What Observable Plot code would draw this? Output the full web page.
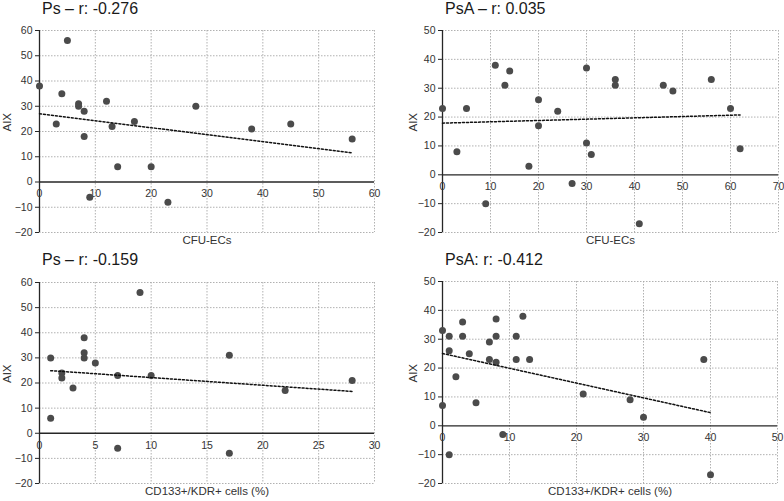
<!DOCTYPE html>
<html>
<head>
<meta charset="utf-8">
<script src="https://cdn.jsdelivr.net/npm/d3@7"></script>
<script src="https://cdn.jsdelivr.net/npm/@observablehq/plot@0.6"></script>
<style>
  html, body { margin: 0; padding: 0; background: #fff; }
  #root { position: relative; width: 784px; height: 501px; overflow: hidden; font-family: "Liberation Sans", Arial, sans-serif; }
  .panel { position: absolute; }
  .title { position: absolute; font-size: 16px; color: #1a1a1a; white-space: nowrap; line-height: 1; }
</style>
</head>
<body>
<div id="root"></div>
<script>
// ---- Data ----
// Panel 1: Ps, CFU-ECs vs AIX
const psCfuX = [0, 5, 4, 7, 7, 8, 3, 8, 12, 13, 17, 14, 20, 9, 23, 28, 38, 45, 56];
const psCfuY = [38, 56, 35, 31, 30, 28, 23, 18, 32, 22, 24, 6, 6, -6, -8, 30, 21, 23, 17];
// Panel 2: PsA, CFU-ECs vs AIX
const psaCfuX = [0, 3, 5, 9, 11, 13, 14, 18, 20, 20, 24, 27, 30, 30, 31, 36, 36, 41, 46, 48, 56, 60, 62];
const psaCfuY = [23, 8, 23, -10, 38, 31, 36, 3, 26, 17, 22, -3, 37, 11, 7, 33, 31, -17, 31, 29, 33, 23, 9];
// Panel 3: Ps, CD133+/KDR+ cells (%) vs AIX
const psCdX = [1, 1, 2, 2, 3, 4, 4, 4, 5, 7, 7, 9, 10, 17, 17, 22, 28];
const psCdY = [30, 6, 24, 22, 18, 38, 32, 30, 28, 23, -6, 56, 23, 31, -8, 17, 21];
// Panel 4: PsA, CD133+/KDR+ cells (%) vs AIX
const psaCdX = [0, 0, 1, 1, 1, 2, 3, 3, 4, 5, 7, 7, 8, 8, 8, 9, 11, 11, 12, 13, 21, 28, 30, 39, 40];
const psaCdY = [33, 7, 31, 26, -10, 17, 36, 31, 25, 8, 29, 23, 37, 31, 22, -3, 31, 23, 38, 23, 11, 9, 3, 23, -17];

// Titles and labels
const titles = ["Ps \u2013 r: -0.276", "PsA \u2013 r: 0.035", "Ps \u2013 r: -0.159", "PsA: r: -0.412"];
const xLabels = ["CFU-ECs", "CFU-ECs", "CD133+/KDR+ cells (%)", "CD133+/KDR+ cells (%)"];
const yLabel = "AIX";

// Tick values
const xTicks1 = [0, 10, 20, 30, 40, 50, 60];
const xTicks2 = [0, 10, 20, 30, 40, 50, 60, 70];
const xTicks3 = [0, 5, 10, 15, 20, 25, 30];
const xTicks4 = [0, 10, 20, 30, 40, 50];
const yTicksPs = [-20, -10, 0, 10, 20, 30, 40, 50, 60];
const yTicksPsA = [-20, -10, 0, 10, 20, 30, 40, 50];

const FONT = "Liberation Sans, Arial, sans-serif";

function panel(cfg) {
  const data = cfg.x.map((v, i) => ({x: v, y: cfg.y[i]}));
  const gridStyle = {stroke: "#a8a8a8", strokeOpacity: 1, strokeWidth: 0.9, strokeDasharray: "1.5,1.5"};
  return Plot.plot({
    width: cfg.width,
    height: cfg.height,
    marginLeft: cfg.ml,
    marginRight: cfg.mr,
    marginTop: cfg.mt,
    marginBottom: cfg.mb,
    style: {fontFamily: FONT, background: "transparent", overflow: "visible"},
    x: {domain: [cfg.xTicks[0], cfg.xTicks[cfg.xTicks.length - 1]], axis: null},
    y: {domain: [cfg.yTicks[0], cfg.yTicks[cfg.yTicks.length - 1]], axis: null},
    marks: [
      Plot.gridX(cfg.xTicks.filter(d => d !== 0), gridStyle),
      Plot.gridY(cfg.yTicks.filter(d => d !== 0), gridStyle),
      Plot.ruleY([0], {stroke: "#262626", strokeWidth: 1.3}),
      Plot.ruleX([0], {stroke: "#262626", strokeWidth: 1.3}),
      Plot.axisY(cfg.yTicks, {tickSize: 4, tickPadding: 3, fontSize: 10.5, fill: "#333", stroke: "#262626", label: null}),
      Plot.text(cfg.xTicks, {x: d => d, y: 0, dy: 12, text: d => String(d), fontSize: 10.5, fill: "#333"}),
      Plot.text([cfg.xLabel], {frameAnchor: "bottom", dy: 11, text: d => d, fontSize: 11.5, fill: "#333"}),
      Plot.text([yLabel], {frameAnchor: "left", dx: cfg.yLabelDx, rotate: -90, text: d => d, fontSize: 11.5, fill: "#333"}),
      Plot.dot(data, {x: "x", y: "y", r: 3.5, fill: "#4b4b4b"}),
      Plot.linearRegressionY(data, {x: "x", y: "y", ci: 0, stroke: "#111", strokeWidth: 1.5, strokeDasharray: "2,2"})
    ]
  });
}

const configs = [
  {x: psCfuX, y: psCfuY, xTicks: xTicks1, yTicks: yTicksPs, xLabel: xLabels[0], title: titles[0],
   left: 0, top: 20, width: 392, height: 230, ml: 39, mr: 18, mt: 10, mb: 18, yLabelDx: -32, tx: 42, ty: 1},
  {x: psaCfuX, y: psaCfuY, xTicks: xTicks2, yTicks: yTicksPsA, xLabel: xLabels[1], title: titles[1],
   left: 392, top: 20, width: 392, height: 230, ml: 50, mr: 6, mt: 10, mb: 18, yLabelDx: -29, tx: 445, ty: 1},
  {x: psCdX, y: psCdY, xTicks: xTicks3, yTicks: yTicksPs, xLabel: xLabels[2], title: titles[2],
   left: 0, top: 270, width: 392, height: 231, ml: 39, mr: 18, mt: 12, mb: 18, yLabelDx: -32, tx: 42, ty: 252},
  {x: psaCdX, y: psaCdY, xTicks: xTicks4, yTicks: yTicksPsA, xLabel: xLabels[3], title: titles[3],
   left: 392, top: 270, width: 392, height: 231, ml: 50, mr: 7, mt: 11, mb: 18, yLabelDx: -29, tx: 445, ty: 252}
];

const root = document.getElementById("root");
for (const c of configs) {
  const t = document.createElement("div");
  t.className = "title";
  t.style.left = c.tx + "px";
  t.style.top = c.ty + "px";
  t.textContent = c.title;
  root.appendChild(t);
  const div = document.createElement("div");
  div.className = "panel";
  div.style.left = c.left + "px";
  div.style.top = c.top + "px";
  div.appendChild(panel(c));
  root.appendChild(div);
}
</script>
</body>
</html>
